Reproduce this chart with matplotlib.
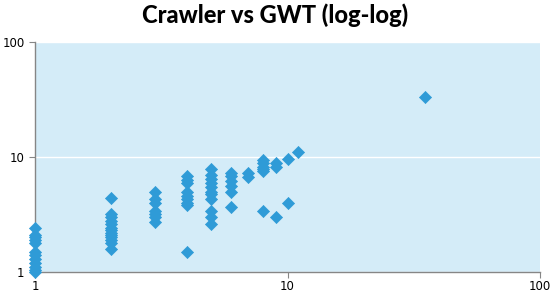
import matplotlib
matplotlib.use("Agg")
import matplotlib.pyplot as plt
from matplotlib.ticker import FixedLocator, NullLocator

crawler_x = ([1]*12 + [2]*13 + [3]*7 + [4]*9 + [5]*11 + [6]*6 + [7]*2 + [8]*6 + [9]*3 + [10]*2 + [11] + [35])
gwt_y = ([2.4, 2.1, 2.0, 1.9, 1.8, 1.5, 1.4, 1.3, 1.2, 1.1, 1.05, 1.0] +
         [4.4, 3.2, 3.0, 2.8, 2.6, 2.4, 2.3, 2.2, 2.1, 2.0, 1.9, 1.8, 1.6] +
         [5.0, 4.3, 4.0, 3.4, 3.2, 3.0, 2.7] +
         [6.8, 6.3, 6.0, 5.0, 4.6, 4.3, 4.0, 3.8, 1.5] +
         [7.8, 7.0, 6.5, 6.0, 5.5, 5.0, 4.8, 4.3, 3.4, 3.0, 2.6] +
         [7.3, 6.8, 6.2, 5.6, 5.0, 3.7] +
         [7.2, 6.7] +
         [9.4, 8.8, 8.2, 7.8, 7.5, 3.4] +
         [8.8, 8.2, 3.0] +
         [9.6, 4.0] +
         [11.0] +
         [33.0])
tick_vals = [1, 10, 100]
tick_labels = ["1", "10", "100"]
title = "Crawler vs GWT (log-log)"

fig = plt.figure(figsize=(5.51, 2.94), dpi=100)
ax = fig.add_axes([35/551, 22/294, 505/551, 230/294])
ax.set_facecolor("#D4ECF8")
ax.set_xscale("log")
ax.set_yscale("log")
ax.set_xlim(1, 100)
ax.set_ylim(1, 100)
ax.yaxis.grid(True, which="major", color="white", linewidth=1)
ax.set_axisbelow(True)
ax.scatter(crawler_x, gwt_y, marker="D", s=38, color="#2F9BD7", edgecolors="#2F9BD7", linewidths=0.5, zorder=3, clip_on=False)
ax.xaxis.set_major_locator(FixedLocator(tick_vals))
ax.yaxis.set_major_locator(FixedLocator(tick_vals))
ax.xaxis.set_minor_locator(NullLocator())
ax.yaxis.set_minor_locator(NullLocator())
ax.set_xticklabels(tick_labels)
ax.set_yticklabels(tick_labels)
for s in ["top", "right"]:
    ax.spines[s].set_visible(False)
for s in ["left", "bottom"]:
    ax.spines[s].set_color("#868686")
    ax.spines[s].set_linewidth(1)
ax.tick_params(axis="both", length=4, color="#868686", labelsize=8.5, labelcolor="black", direction="out")
ax.tick_params(axis="x", pad=2)
fig.text(0.5, 0.95, title, ha="center", va="center", fontsize=17, fontweight=900, family=["Lato", "DejaVu Sans"])
fig.savefig("out.png", dpi=100)
